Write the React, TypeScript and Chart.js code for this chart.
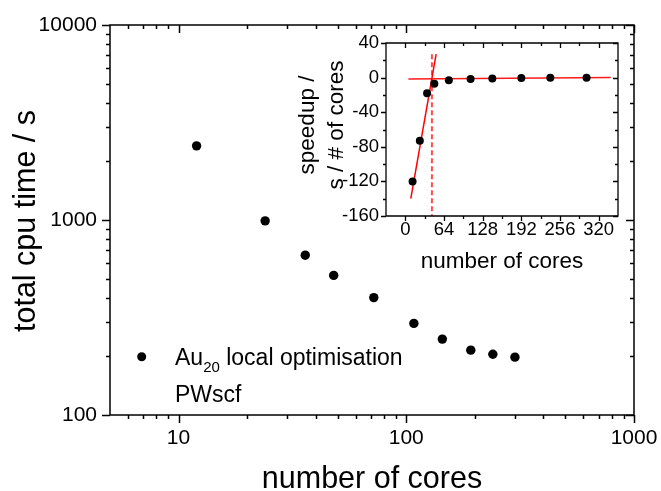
import React, { useEffect, useRef } from "react";
import { Chart, registerables } from "chart.js";
Chart.register(...registerables);

const FONT = "'Liberation Sans', Arial, sans-serif";

// Main chart data
const cores = [12, 24, 36, 48, 72, 108, 144, 192, 240, 300];
const cpuTime = [2400, 990, 660, 520, 400, 295, 245, 215, 205, 198];

// Inset data
const speedupPerCore = [-120, -73, -18, -7, -3, -1.5, -1, -0.5, -0.3, -0.2];
const steepFitX = [9, 51];
const steepFitY = [-140, 27];
const flatFitX = [5, 340];
const flatFitY = [-1.5, 0];
const crossX = [44, 44];
const crossY = [27, -160];

// Tick values
const mainXTicks = [10, 100, 1000];
const mainXMinor = [6, 7, 8, 9, 20, 30, 40, 50, 60, 70, 80, 90, 200, 300, 400, 500, 600, 700, 800, 900];
const mainYTicks = [100, 1000, 10000];
const mainYMinor = [200, 300, 400, 500, 600, 700, 800, 900, 2000, 3000, 4000, 5000, 6000, 7000, 8000, 9000];
const insetXTicks = [0, 64, 128, 192, 256, 320];
const insetXMinor = [32, 96, 160, 224, 288];
const insetYTicks = [-160, -120, -80, -40, 0, 40];
const insetYMinor = [-140, -100, -60, -20, 20];

type FrameOpts = {
  xMajor: number[]; xMinor: number[]; yMajor: number[]; yMinor: number[];
  majorLen: number; minorLen: number; lw: number;
  texts: (ctx: CanvasRenderingContext2D) => void;
};

function makeFramePlugin(o: FrameOpts) {
  return {
    id: "frame",
    afterDraw(chart: any) {
      const { ctx, chartArea: a, scales } = chart;
      const sx = scales.x, sy = scales.y;
      ctx.save();
      ctx.strokeStyle = "#000";
      ctx.lineWidth = o.lw;
      ctx.beginPath();
      ctx.rect(a.left, a.top, a.right - a.left, a.bottom - a.top);
      ctx.stroke();
      ctx.beginPath();
      const xt = (vals: number[], len: number) => {
        vals.forEach((v) => {
          const px = Math.round(sx.getPixelForValue(v)) + 0.5;
          ctx.moveTo(px, a.bottom);
          ctx.lineTo(px, a.bottom + len); // outward bottom
          ctx.moveTo(px, a.top);
          ctx.lineTo(px, a.top + len); // inward top
        });
      };
      const yt = (vals: number[], len: number) => {
        vals.forEach((v) => {
          const py = Math.round(sy.getPixelForValue(v)) + 0.5;
          ctx.moveTo(a.left, py);
          ctx.lineTo(a.left - len, py); // outward left
          ctx.moveTo(a.right, py);
          ctx.lineTo(a.right - len, py); // inward right
        });
      };
      xt(o.xMajor, o.majorLen);
      xt(o.xMinor, o.minorLen);
      yt(o.yMajor, o.majorLen);
      yt(o.yMinor, o.minorLen);
      ctx.stroke();
      ctx.fillStyle = "#000";
      o.texts(ctx);
      ctx.restore();
    },
  };
}

function rotText(ctx: CanvasRenderingContext2D, text: string, bx: number, cy: number) {
  ctx.save();
  ctx.translate(bx, cy);
  ctx.rotate(-Math.PI / 2);
  ctx.textAlign = "center";
  ctx.textBaseline = "alphabetic";
  ctx.fillText(text, 0, 0);
  ctx.restore();
}

const fixX = (h: number) => (s: any) => {
  s.height = h;
  s.paddingLeft = 0;
  s.paddingRight = 0;
  s.paddingTop = 0;
  s.paddingBottom = 0;
};
const fixY = (w: number) => (s: any) => {
  s.width = w;
  s.paddingLeft = 0;
  s.paddingRight = 0;
  s.paddingTop = 0;
  s.paddingBottom = 0;
};

export default function App() {
  const mainRef = useRef<HTMLCanvasElement>(null);
  const insetRef = useRef<HTMLCanvasElement>(null);

  useEffect(() => {
    const tickFont = (size: number) => ({ family: FONT, size });

    const mainChart = new Chart(mainRef.current!, {
      type: "scatter",
      data: {
        datasets: [
          {
            data: cores.map((c, i) => ({ x: c, y: cpuTime[i] })),
            pointRadius: 4.7,
            pointBackgroundColor: "#000",
            pointBorderWidth: 0,
          },
        ],
      },
      options: {
        animation: false,
        responsive: false,
        layout: { padding: { left: 0, top: 25, right: 27, bottom: 0 } },
        plugins: { legend: { display: false }, tooltip: { enabled: false } },
        scales: {
          x: {
            type: "logarithmic",
            min: 5,
            max: 1000,
            afterBuildTicks: (s: any) => {
              s.ticks = mainXTicks.map((v) => ({ value: v }));
            },
            afterFit: fixX(76),
            grid: { display: false, drawTicks: false },
            border: { display: false },
            ticks: {
              autoSkip: false,
              maxRotation: 0,
              padding: 11,
              color: "#000",
              font: tickFont(21),
              callback: (v: any) => String(v),
            },
          },
          y: {
            type: "logarithmic",
            min: 100,
            max: 10000,
            afterBuildTicks: (s: any) => {
              s.ticks = mainYTicks.map((v) => ({ value: v }));
            },
            afterFit: fixY(110),
            grid: { display: false, drawTicks: false },
            border: { display: false },
            ticks: {
              autoSkip: false,
              padding: 13,
              color: "#000",
              font: tickFont(21),
              callback: (v: any) => String(v),
            },
          },
        },
      } as any,
      plugins: [
        makeFramePlugin({
          xMajor: mainXTicks, xMinor: mainXMinor, yMajor: mainYTicks, yMinor: mainYMinor,
          majorLen: 8, minorLen: 4, lw: 1.5,
          texts: (ctx) => {
            ctx.font = `30.5px ${FONT}`;
            rotText(ctx, "total cpu time / s", 35, 221);
            ctx.textAlign = "center";
            ctx.textBaseline = "alphabetic";
            ctx.fillText("number of cores", 372, 488);
            // legend
            ctx.beginPath();
            ctx.arc(141.7, 356.7, 4.5, 0, Math.PI * 2);
            ctx.fill();
            ctx.textAlign = "left";
            ctx.font = `23px ${FONT}`;
            let x = 175;
            ctx.fillText("Au", x, 365);
            x += ctx.measureText("Au").width;
            ctx.font = `15px ${FONT}`;
            ctx.fillText("20", x, 372);
            x += ctx.measureText("20").width;
            ctx.font = `23px ${FONT}`;
            ctx.fillText(" local optimisation", x, 365);
            ctx.fillText("PWscf", 175, 401.5);
          },
        }) as any,
      ],
    });

    const insetChart = new Chart(insetRef.current!, {
      type: "scatter",
      data: {
        datasets: [
          {
            data: cores.map((c, i) => ({ x: c, y: speedupPerCore[i] })),
            pointRadius: 4,
            pointBackgroundColor: "#000",
            pointBorderWidth: 0,
          },
          {
            data: steepFitX.map((x, i) => ({ x, y: steepFitY[i] })),
            showLine: true,
            pointRadius: 0,
            borderColor: "#ff0000",
            borderWidth: 1.5,
          },
          {
            data: flatFitX.map((x, i) => ({ x, y: flatFitY[i] })),
            showLine: true,
            pointRadius: 0,
            borderColor: "#ff1a1a",
            borderWidth: 1.5,
          },
          {
            data: crossX.map((x, i) => ({ x, y: crossY[i] })),
            showLine: true,
            pointRadius: 0,
            borderColor: "#ff4d4d",
            borderWidth: 2,
            borderDash: [5, 3],
          },
        ],
      },
      options: {
        animation: false,
        responsive: false,
        layout: { padding: { left: 0, top: 43, right: 43, bottom: 0 } },
        plugins: { legend: { display: false }, tooltip: { enabled: false } },
        scales: {
          x: {
            type: "linear",
            min: -32,
            max: 352,
            afterBuildTicks: (s: any) => {
              s.ticks = insetXTicks.map((v) => ({ value: v }));
            },
            afterFit: fixX(64),
            grid: { display: false, drawTicks: false },
            border: { display: false },
            ticks: {
              autoSkip: false,
              maxRotation: 0,
              padding: 3,
              color: "#000",
              font: tickFont(18.5),
            },
          },
          y: {
            type: "linear",
            min: -160,
            max: 40,
            afterBuildTicks: (s: any) => {
              s.ticks = insetYTicks.map((v) => ({ value: v }));
            },
            afterFit: fixY(106),
            grid: { display: false, drawTicks: false },
            border: { display: false },
            ticks: {
              autoSkip: false,
              padding: 7,
              color: "#000",
              font: tickFont(18.5),
            },
          },
        },
      } as any,
      plugins: [
        makeFramePlugin({
          xMajor: insetXTicks, xMinor: insetXMinor, yMajor: insetYTicks, yMinor: insetYMinor,
          majorLen: 5, minorLen: 3, lw: 1.3,
          texts: (ctx) => {
            ctx.font = `22.5px ${FONT}`;
            rotText(ctx, "speedup /", 34, 125);
            rotText(ctx, "s / # of cores", 63, 125);
            ctx.textAlign = "center";
            ctx.textBaseline = "alphabetic";
            ctx.fillText("number of cores", 222, 268);
          },
        }) as any,
      ],
    });

    return () => {
      mainChart.destroy();
      insetChart.destroy();
    };
  }, []);

  return (
    <div style={{ position: "absolute", left: 0, top: 0, width: 661, height: 491, background: "#fff" }}>
      <canvas ref={mainRef} width={661} height={491} style={{ position: "absolute", left: 0, top: 0 }} />
      <canvas ref={insetRef} width={381} height={280} style={{ position: "absolute", left: 280, top: 0 }} />
    </div>
  );
}
